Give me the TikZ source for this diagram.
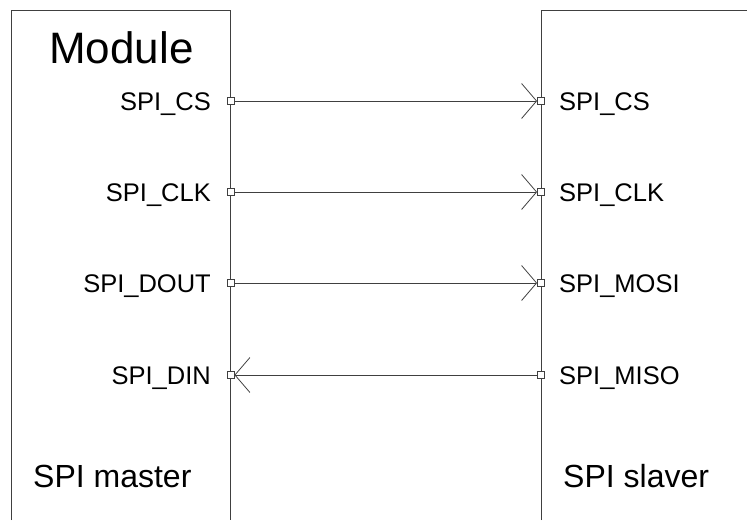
\documentclass[tikz,border=0pt]{standalone}
\usepackage{fontspec}
\setmainfont{Liberation Sans}
\usepackage{tikz}
\usetikzlibrary{arrows.meta}
\tikzset{
  pinsq/.style={draw=black!75, rectangle, minimum size=7pt, inner sep=0pt, line width=0.8pt},
  sig/.style={draw=black!75, line width=0.8pt, -{Straight Barb[length=15pt, width=35pt]}},
  pinlbl/.style={inner sep=0pt, font=\fontsize{25.5}{30}\selectfont},
  biglbl/.style={inner sep=0pt, font=\fontsize{32}{38}\selectfont}
}
\begin{document}
\begin{tikzpicture}[x=1pt, y=-1pt]
			%%%%% START %%%%%
			
			\useasboundingbox (0, 0) rectangle (747, 520);
			
			\draw[black!75, line width=1pt] (11, 520) -- (11, 10) -- (230.5, 10) -- (230.5, 520);
			\draw[black!75, line width=1pt] (541, 520) -- (541, 10) -- (747, 10);
			
			\node[inner sep=0pt, anchor=base west, font=\fontsize{44}{50}\selectfont] (mod) at (49, 63) {Module};
			\node[biglbl, anchor=base west] (mst) at (33, 487) {SPI master};
			\node[biglbl, anchor=base west] (slv) at (563, 487) {SPI slaver};
			
			\node[pinsq, fill=white] (m1) at (230.5, 101) {};
			\node[pinsq, fill=white] (m2) at (230.5, 192) {};
			\node[pinsq, fill=white] (m3) at (230.5, 283) {};
			\node[pinsq, fill=white] (m4) at (230.5, 375) {};
			
			\node[pinsq, fill=white] (s1) at (541, 101) {};
			\node[pinsq, fill=white] (s2) at (541, 192) {};
			\node[pinsq, fill=white] (s3) at (541, 283) {};
			\node[pinsq, fill=white] (s4) at (541, 375) {};
			
			\node[pinlbl, anchor=base east] (ml1) at (211, 110) {SPI\_CS};
			\node[pinlbl, anchor=base east] (ml2) at (211, 201) {SPI\_CLK};
			\node[pinlbl, anchor=base east] (ml3) at (211, 292) {SPI\_DOUT};
			\node[pinlbl, anchor=base east] (ml4) at (211, 384) {SPI\_DIN};
			
			\node[pinlbl, anchor=base west] (sl1) at (559, 110) {SPI\_CS};
			\node[pinlbl, anchor=base west] (sl2) at (559, 201) {SPI\_CLK};
			\node[pinlbl, anchor=base west] (sl3) at (559, 292) {SPI\_MOSI};
			\node[pinlbl, anchor=base west] (sl4) at (559, 384) {SPI\_MISO};
			
			\draw[sig] (m1.east) -- (s1.west);
			\draw[sig] (m2.east) -- (s2.west);
			\draw[sig] (m3.east) -- (s3.west);
			\draw[sig] (s4.west) -- (m4.east);
			
			%%%%% END %%%%%
		\end{tikzpicture}
\end{document}
